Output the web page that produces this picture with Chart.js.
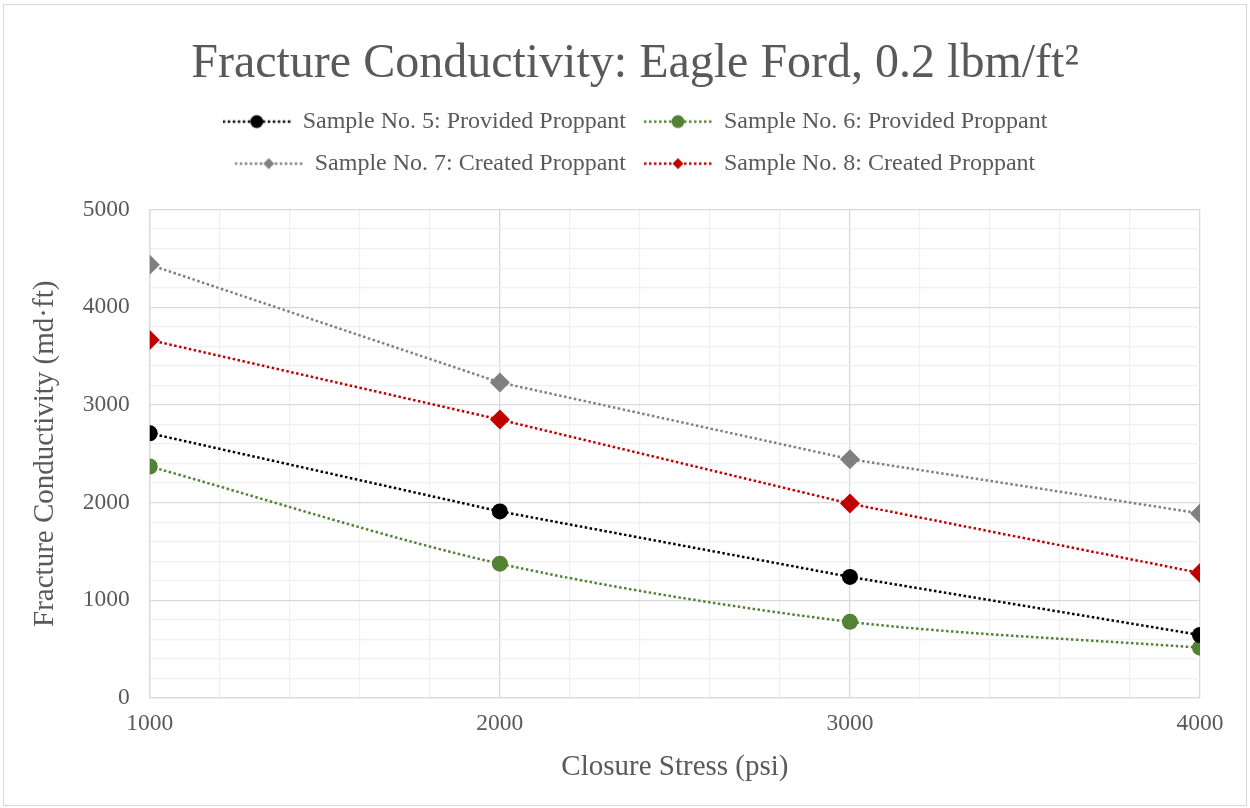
<!DOCTYPE html>
<html>
<head>
<meta charset="utf-8">
<script src="https://cdn.jsdelivr.net/npm/chart.js@4"></script>
<style>
  html, body { margin: 0; padding: 0; background: #fff; }
  #wrap { width: 1250px; height: 808px; position: relative; }
</style>
</head>
<body>
<div id="wrap"><canvas id="fcChart" width="1250" height="808"></canvas></div>
<script>
// Closure stress (psi) on the x axis
const stress = [1000, 2000, 3000, 4000];

// Fracture conductivity (md·ft) per sample
const sample5 = [2710, 1910, 1240, 645];
const sample6 = [2370, 1375, 780, 515];
const sample7 = [4435, 3230, 2445, 1890];
const sample8 = [3665, 2850, 1990, 1280];

const seriesNames = [
  'Sample No. 5: Provided Proppant',
  'Sample No. 6: Provided Proppant',
  'Sample No. 7: Created Proppant',
  'Sample No. 8: Created Proppant'
];

const FONT = '"Liberation Serif", "Times New Roman", serif';
const TEXT = '#595959';

// Legend swatch: short dotted line with the marker in the middle
function legendSwatch(color, shape) {
  const c = document.createElement('canvas');
  c.width = 68;
  c.height = 16;
  const g = c.getContext('2d');
  g.strokeStyle = color;
  g.lineWidth = 2.5;
  g.setLineDash([2.5, 2.5]);
  g.beginPath();
  g.moveTo(0, 8);
  g.lineTo(68, 8);
  g.stroke();
  g.fillStyle = color;
  g.beginPath();
  if (shape === 'circle') {
    g.arc(34, 8, 6.5, 0, Math.PI * 2);
  } else {
    g.moveTo(34, 2.5);
    g.lineTo(39.5, 8);
    g.lineTo(34, 13.5);
    g.lineTo(28.5, 8);
    g.closePath();
  }
  g.fill();
  return c;
}

function makeSeries(label, values, color, shape, tension) {
  return {
    label: label,
    data: stress.map((x, i) => ({ x: x, y: values[i] })),
    borderColor: color,
    backgroundColor: color,
    borderWidth: 2.5,
    borderDash: [2.5, 2.5],
    pointStyle: shape === 'circle' ? 'circle' : 'rectRot',
    pointRadius: shape === 'circle' ? 8 : 10,
    pointBorderWidth: 0,
    tension: tension,
    legendSwatch: legendSwatch(color, shape)
  };
}

// light outer frame around the chart
const framePlugin = {
  id: 'frame',
  beforeDraw(chart) {
    const ctx = chart.ctx;
    ctx.save();
    ctx.strokeStyle = '#d9d9d9';
    ctx.lineWidth = 1;
    ctx.strokeRect(3.5, 4.5, 1243, 801);
    ctx.restore();
  }
};

// empty boxes: one under the legend, one right of the plot
function spacer(position, size) {
  const horizontal = position === 'top' || position === 'bottom';
  return {
    position: position,
    weight: -10,
    fullSize: false,
    options: {},
    width: 0,
    height: 0,
    isHorizontal() { return horizontal; },
    update(maxWidth, maxHeight) {
      this.width = horizontal ? maxWidth : size;
      this.height = horizontal ? size : maxHeight;
    },
    draw() {}
  };
}

const spacerPlugin = {
  id: 'spacer',
  beforeInit(chart) {
    Chart.layouts.addBox(chart, spacer('top', 24));
    Chart.layouts.addBox(chart, spacer('right', 42));
  }
};

const ctx = document.getElementById('fcChart').getContext('2d');
new Chart(ctx, {
  type: 'line',
  data: {
    datasets: [
      makeSeries(seriesNames[0], sample5, '#000000', 'circle', 0),
      makeSeries(seriesNames[1], sample6, '#548235', 'circle', 0.3),
      makeSeries(seriesNames[2], sample7, '#808080', 'diamond', 0),
      makeSeries(seriesNames[3], sample8, '#c00000', 'diamond', 0)
    ]
  },
  options: {
    responsive: false,
    animation: false,
    layout: { padding: { left: 28, right: 8, top: 18, bottom: 19 } },
    plugins: {
      title: {
        display: true,
        text: 'Fracture Conductivity: Eagle Ford, 0.2 lbm/ft²',
        color: TEXT,
        font: { family: FONT, size: 48, weight: 'normal' },
        padding: { top: 18, bottom: -2 }
      },
      legend: {
        position: 'top',
        maxWidth: 900,
        labels: {
          color: TEXT,
          font: { family: FONT, size: 24 },
          usePointStyle: true,
          pointStyleWidth: 68,
          padding: 18,
          generateLabels(chart) {
            return chart.data.datasets.map((ds, i) => ({
              text: ds.label,
              fontColor: TEXT,
              pointStyle: ds.legendSwatch,
              strokeStyle: ds.borderColor,
              fillStyle: ds.backgroundColor,
              lineWidth: 0,
              hidden: false,
              datasetIndex: i
            }));
          }
        }
      },
      tooltip: { enabled: false }
    },
    scales: {
      x: {
        type: 'linear',
        min: 1000,
        max: 4000,
        ticks: {
          stepSize: 200,
          autoSkip: false,
          maxRotation: 0,
          color: TEXT,
          font: { family: FONT, size: 23.5 },
          padding: 12,
          callback: v => (v % 1000 === 0 ? String(v) : '')
        },
        grid: {
          color: c => (c.tick && c.tick.value % 1000 === 0 ? '#d9d9d9' : '#f0f0f0'),
          lineWidth: 1.3,
          drawTicks: false
        },
        border: { color: '#d9d9d9', width: 1.3 },
        title: {
          display: true,
          text: 'Closure Stress (psi)',
          color: TEXT,
          font: { family: FONT, size: 29 },
          padding: { top: 0 }
        }
      },
      y: {
        min: 0,
        max: 5000,
        ticks: {
          stepSize: 200,
          autoSkip: false,
          color: TEXT,
          font: { family: FONT, size: 23.5 },
          padding: 20,
          callback: v => (v % 1000 === 0 ? String(v) : '')
        },
        grid: {
          color: c => (c.tick && c.tick.value % 1000 === 0 ? '#d9d9d9' : '#f0f0f0'),
          lineWidth: 1.3,
          drawTicks: false
        },
        border: { color: '#d9d9d9', width: 1.3 },
        title: {
          display: true,
          text: 'Fracture Conductivity (md·ft)',
          color: TEXT,
          font: { family: FONT, size: 29 },
          padding: { top: 0, bottom: 0 }
        }
      }
    }
  },
  plugins: [framePlugin, spacerPlugin]
});
</script>
</body>
</html>
